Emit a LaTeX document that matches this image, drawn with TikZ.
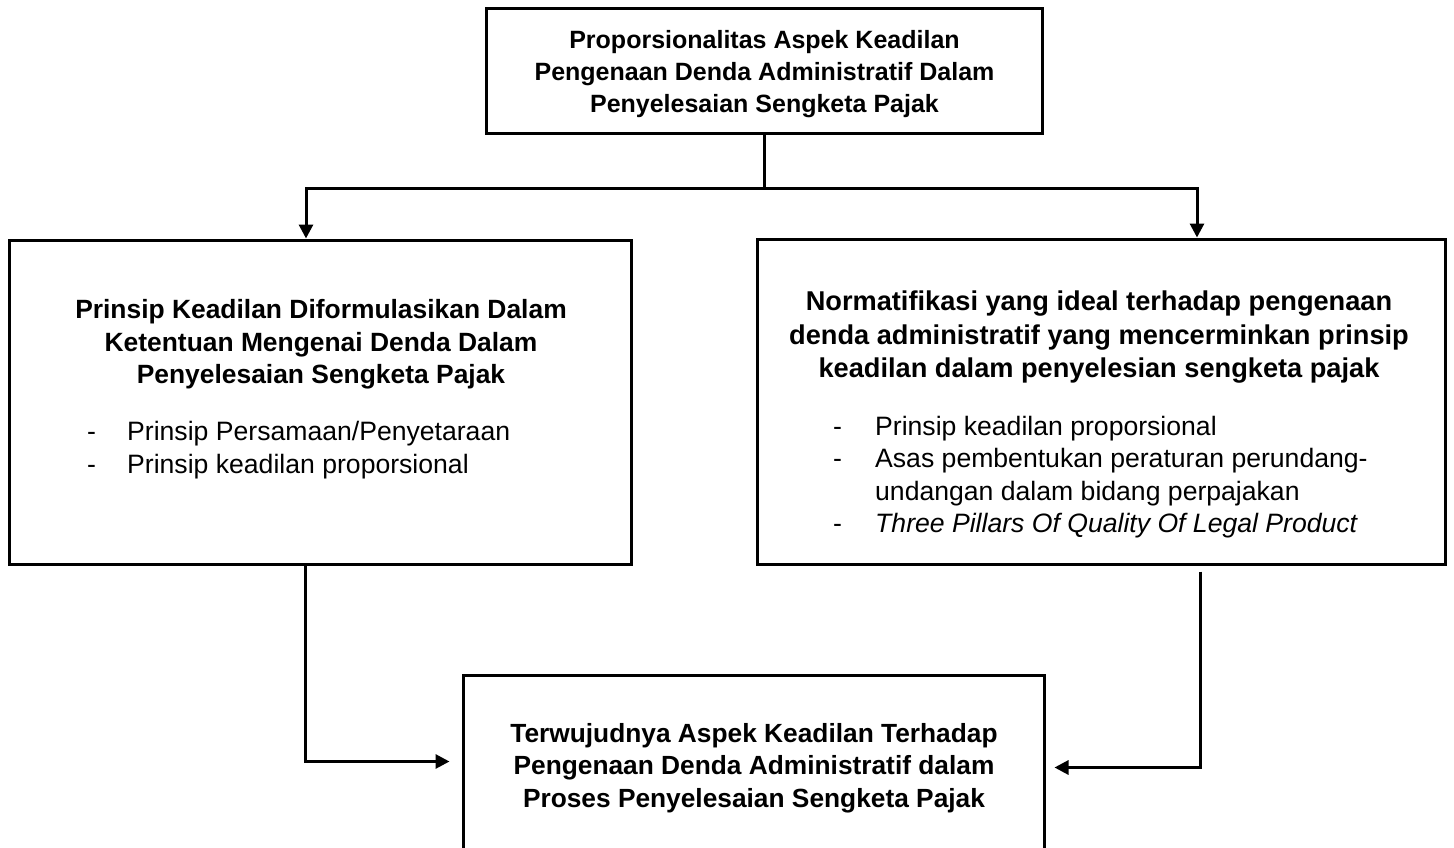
\documentclass[tikz,border=0pt]{standalone}
\usepackage{fontspec}
\setmainfont{Liberation Sans}
\usetikzlibrary{arrows.meta,positioning,calc}

\begin{document}
\begin{tikzpicture}[x=1pt, y=-1pt,
		box/.style={rectangle, draw=black, line width=3pt, fill=white, inner sep=0pt},
		judul/.style={align=center, inner sep=0pt, font=\fontsize{26.4}{32.5}\selectfont\bfseries},
		daftar/.style={align=left, inner sep=0pt, anchor=north west, font=\fontsize{26.6}{32.6}\selectfont},
		panah/.style={-{Triangle[length=14pt,width=14pt]}, line width=3pt, draw=black}
	]
		\useasboundingbox (0,0) rectangle (1454,848);
		% kotak
		\node[box, minimum width=556pt, minimum height=125pt] (atas) at (764.5,71.5) {};
		\node[box, minimum width=622pt, minimum height=324pt] (kiri) at (320,402) {};
		\node[box, minimum width=688pt, minimum height=325pt] (kanan) at (1101,401.5) {};
		\node[box, minimum width=581pt, minimum height=185pt] (hasil) at (753.5,767.5) {};
		% teks
		\node[judul, font=\fontsize{25}{32}\selectfont\bfseries] (atasT) at (764.5,74) {Proporsionalitas Aspek Keadilan\\Pengenaan Denda Administratif Dalam\\Penyelesaian Sengketa Pajak};
		\node[judul] (kiriT) at (321,344.5) {Prinsip Keadilan Diformulasikan Dalam\\Ketentuan Mengenai Denda Dalam\\Penyelesaian Sengketa Pajak};
		\node[daftar] (kiriL) at (87,421) {\makebox[40pt][l]{-}Prinsip Persamaan/Penyetaraan\\\makebox[40pt][l]{-}Prinsip keadilan proporsional};
		\node[judul, font=\fontsize{27.2}{33.5}\selectfont\bfseries] (kananT) at (1099,337.5) {Normatifikasi yang ideal terhadap pengenaan\\denda administratif yang mencerminkan prinsip\\keadilan dalam penyelesian sengketa pajak};
		\node[daftar, font=\fontsize{26.6}{32.3}\selectfont] (kananL) at (833,416) {\makebox[42pt][l]{-}Prinsip keadilan proporsional\\\makebox[42pt][l]{-}Asas pembentukan peraturan perundang-\\\hspace*{42pt}undangan dalam bidang perpajakan\\\makebox[42pt][l]{-}\textit{Three Pillars Of Quality Of Legal Product}};
		\node[judul, font=\fontsize{26.3}{32.5}\selectfont\bfseries] (hasilT) at (754,768) {Terwujudnya Aspek Keadilan Terhadap\\Pengenaan Denda Administratif dalam\\Proses Penyelesaian Sengketa Pajak};
		% panah
		\coordinate (cabang) at (764.5,188);
		\draw[panah] (atas.south) -- (cabang) -| ([xshift=-14pt]kiri.north);
		\draw[panah] (cabang) -| ([xshift=96pt]kanan.north);
		\draw[panah, shorten >=12pt] ([xshift=-15pt]kiri.south) |- ([yshift=6pt]hasil.west);
		\draw[panah, shorten <=6pt, shorten >=9pt] ([xshift=99pt]kanan.south) |- (hasil.east);
	\end{tikzpicture}
\end{document}
